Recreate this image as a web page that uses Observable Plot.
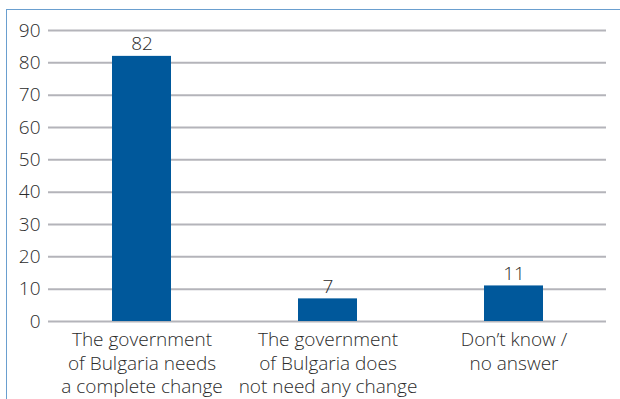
<!DOCTYPE html>
<html>
<head>
<meta charset="utf-8">
<script src="https://cdn.jsdelivr.net/npm/d3@7"></script>
<script src="https://cdn.jsdelivr.net/npm/@observablehq/plot@0.6"></script>
<style>
  html, body { margin: 0; padding: 0; background: #fff; }
  #wrap { position: relative; width: 620px; height: 399px; overflow: hidden; }
  #border { position: absolute; left: 6px; top: 9px; width: 640px; height: 420px;
            border-top: 1.5px solid #6a9fcf; border-left: 1.5px solid #6a9fcf; }
  #chart { position: absolute; left: 0; top: 0; }
</style>
</head>
<body>
<div id="wrap"><div id="border"></div><div id="chart"></div></div>
<script>
const categories = [
  "The government\nof Bulgaria needs\na complete change",
  "The government\nof Bulgaria does\nnot need any change",
  "Don\u2019t know /\nno answer"
];
const values = [82, 7, 11];
const yTicks = [0, 10, 20, 30, 40, 50, 60, 70, 80, 90];

const data = categories.map((c, i) => ({category: c, value: values[i]}));
const font = "'Open Sans', 'Noto Sans', sans-serif";

const chart = Plot.plot({
  width: 620,
  height: 399,
  marginLeft: 48,
  marginRight: 14,
  marginTop: 30,
  marginBottom: 78,
  style: {fontFamily: font, fontWeight: 300, background: "transparent", color: "#2b2b2b"},
  x: {domain: categories, paddingInner: 0.683, paddingOuter: 0.3415},
  y: {domain: [0, 90], ticks: yTicks},
  marks: [
    Plot.gridY(yTicks, {stroke: "#b4b4ba", strokeOpacity: 1, strokeWidth: 2}),
    Plot.axisY(yTicks, {tickSize: 0, tickPadding: 8, fontSize: 19, fontWeight: 300, fill: "#2b2b2b", label: null}),
    Plot.axisX({tickSize: 0, tickPadding: 8, fontSize: 19, fontWeight: 300, fill: "#2b2b2b", lineHeight: 1.24, label: null}),
    Plot.barY(data, {x: "category", y: "value", fill: "#00589b"}),
    Plot.text(data, {x: "category", y: "value", text: d => String(d.value), dy: -12, fontSize: 19, fontWeight: 300, fill: "#2b2b2b"})
  ]
});
document.getElementById("chart").appendChild(chart);
</script>
</body>
</html>
